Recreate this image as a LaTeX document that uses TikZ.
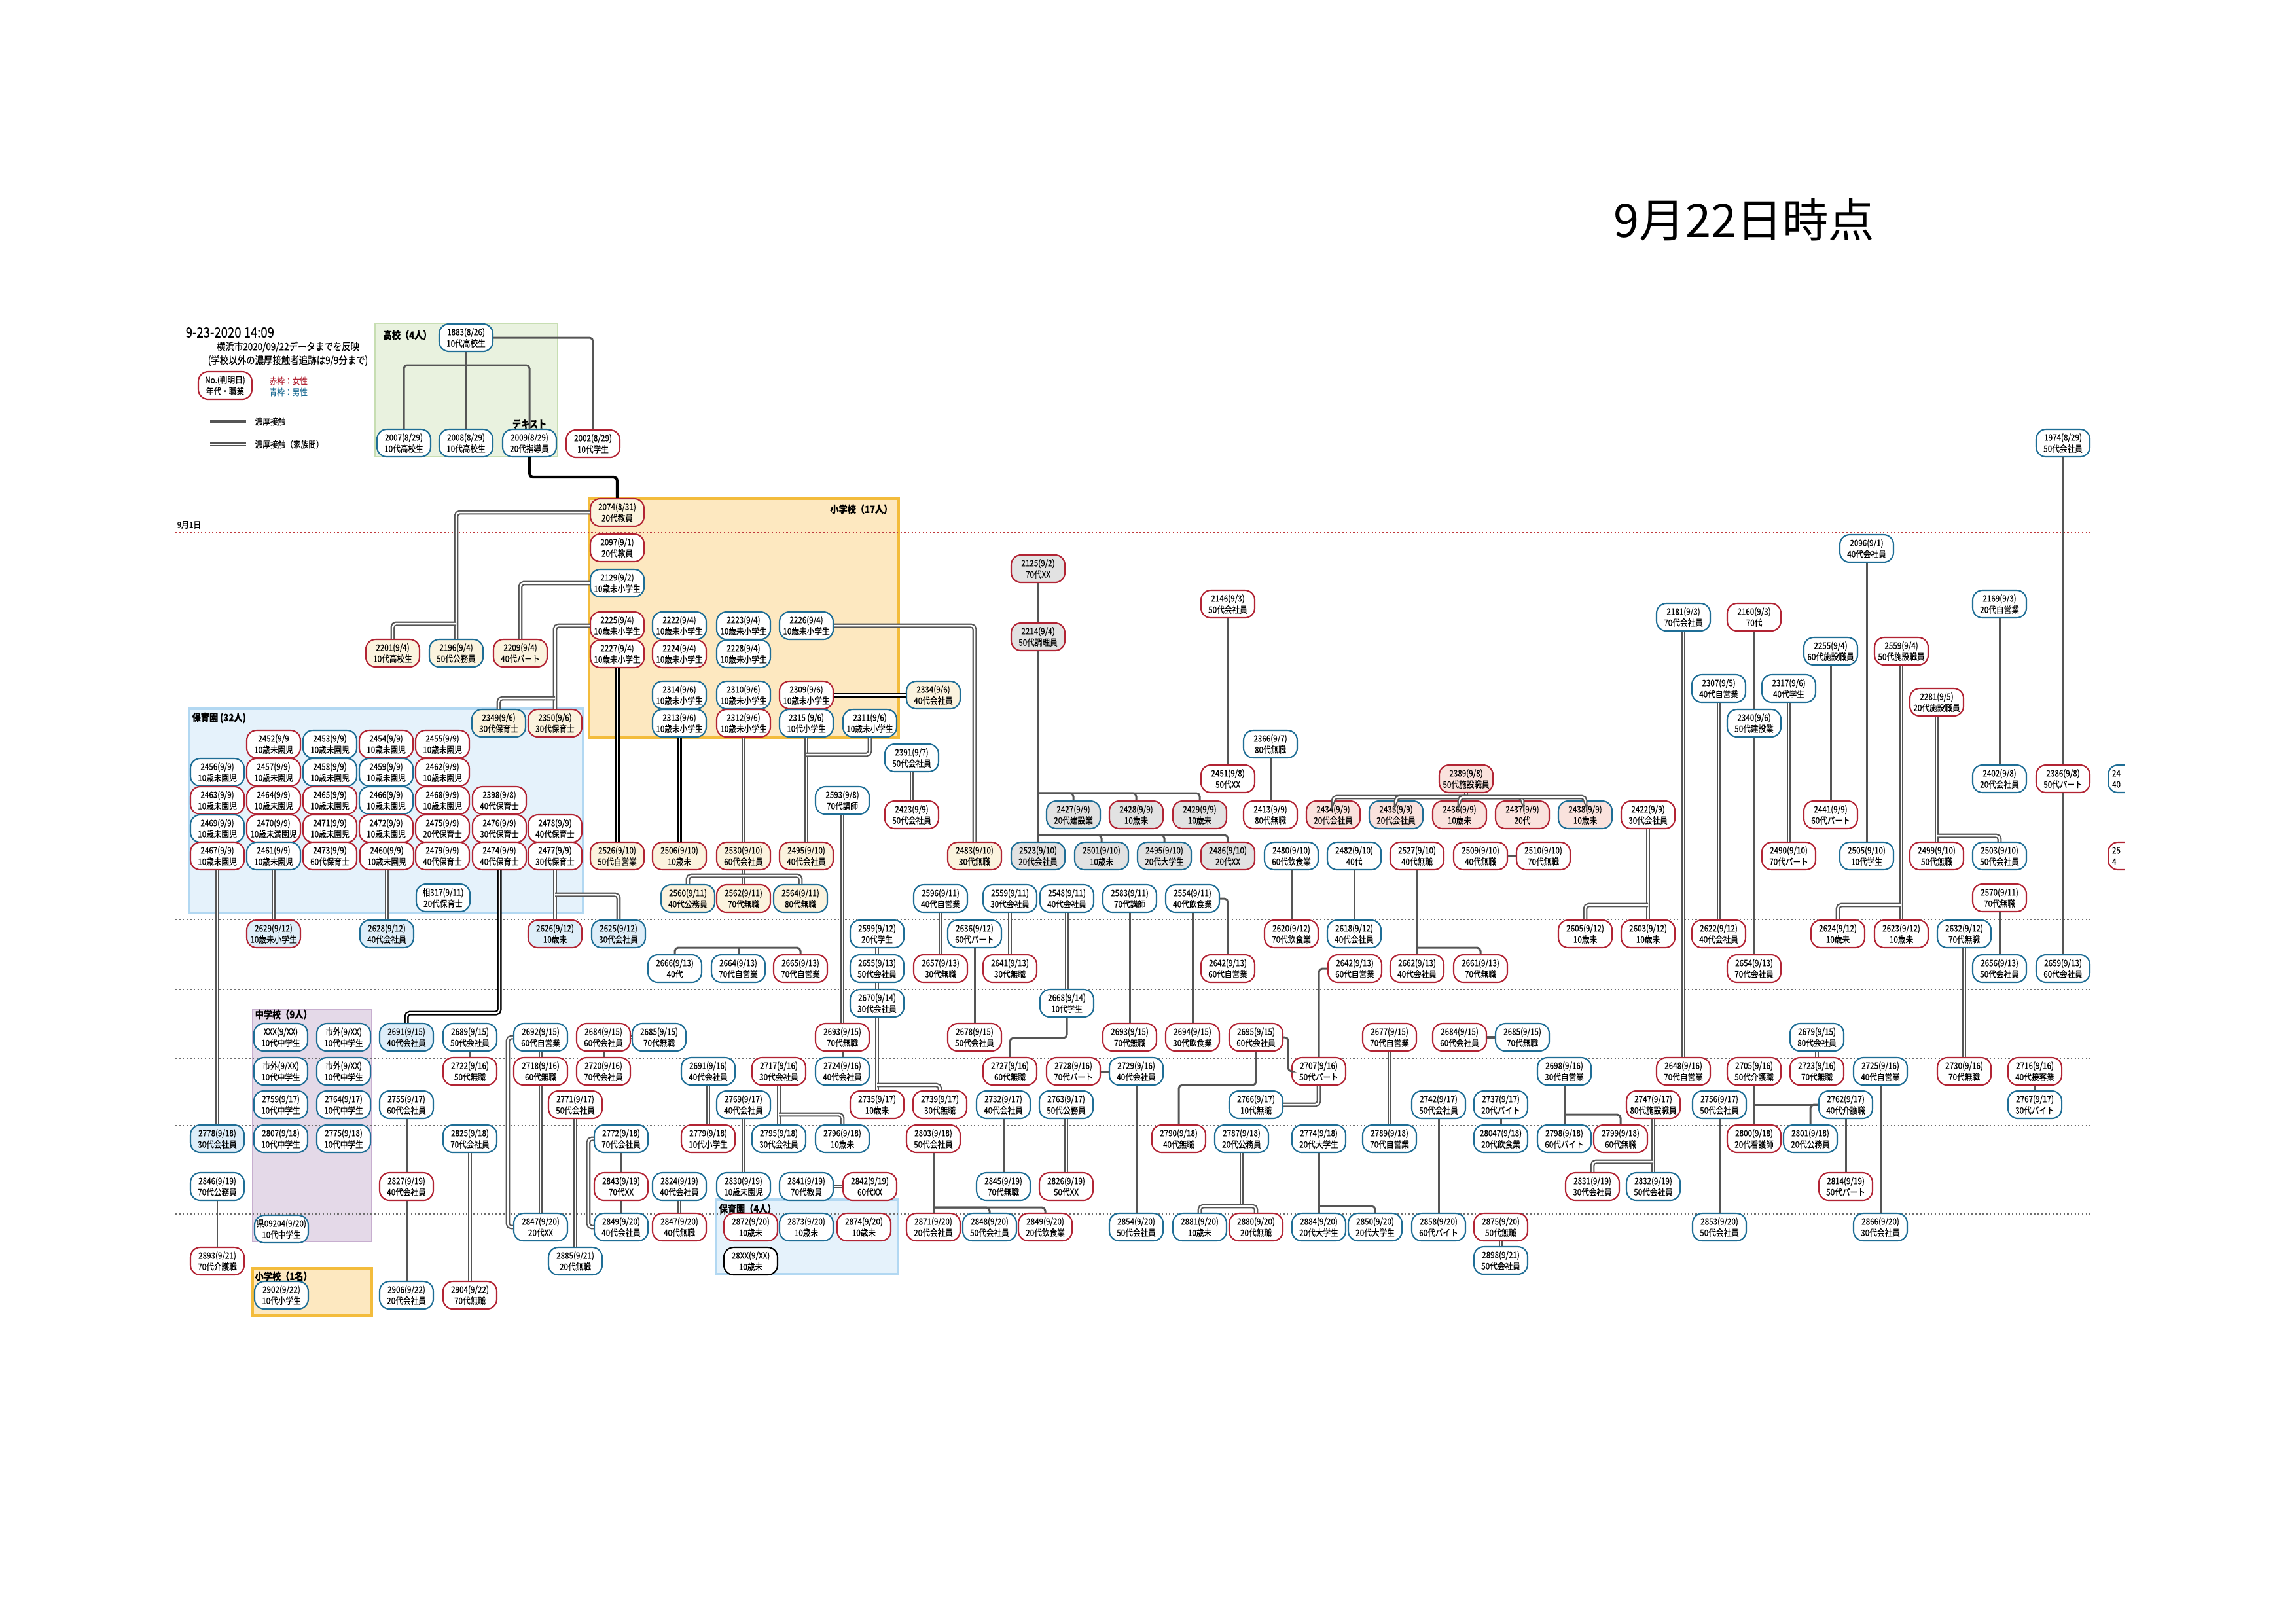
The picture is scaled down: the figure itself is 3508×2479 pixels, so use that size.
\documentclass[tikz,border=0pt]{standalone}
\usepackage{fontspec}
\usetikzlibrary{positioning}
\newfontfamily\jpfont{Noto Sans CJK JP}[FakeStretch=0.85, FakeBold=0.3]
\newfontfamily\titlefont{Noto Sans CJK JP}
\definecolor{maleblue}{RGB}{31,110,150}
\definecolor{femred}{RGB}{178,36,52}
\definecolor{linegray}{RGB}{85,85,85}
\definecolor{beigefill}{RGB}{251,243,222}
\definecolor{grayfill}{RGB}{226,226,226}
\definecolor{pinkfill}{RGB}{250,226,221}
\definecolor{lbluefill}{RGB}{222,238,249}
\definecolor{koukofill}{RGB}{233,242,223}
\definecolor{koukoline}{RGB}{199,222,178}
\definecolor{shofill}{RGB}{253,232,192}
\definecolor{sholine}{RGB}{243,188,60}
\definecolor{hoikufill}{RGB}{229,242,251}
\definecolor{hoikuline}{RGB}{178,216,242}
\definecolor{chufill}{RGB}{228,217,232}
\definecolor{chuline}{RGB}{199,174,207}
\definecolor{datered}{RGB}{192,57,60}
\definecolor{dategray}{RGB}{110,110,110}
\newcommand{\nodefont}{\jpfont\fontsize{3.9pt}{4.9pt}\selectfont}
\newcommand{\grpfont}{\jpfont\bfseries\fontsize{4.4pt}{5pt}\selectfont}
\newcommand{\notefont}{\jpfont\fontsize{4.5pt}{5pt}\selectfont}

\begin{document}
\begin{tikzpicture}[x=0.1mm, y=-0.1mm,
    person/.style={rectangle, rounded corners=0.15cm, minimum width=0.82cm, minimum height=0.42cm, inner sep=0pt, align=center, fill=white, line width=0.6pt, font=\nodefont},
    man/.style={person, draw=maleblue},
    woman/.style={person, draw=femred},
    unk/.style={person, draw=black},
    fbeige/.style={fill=beigefill},
    fgray/.style={fill=grayfill},
    fpink/.style={fill=pinkfill},
    flblue/.style={fill=lbluefill},
    cline/.style={draw=linegray, line width=0.85pt, rounded corners=1.5pt},
    dline/.style={draw=linegray, double=white, double distance=0.7pt, line width=0.6pt, rounded corners=1.5pt},
    bline/.style={draw=black, line width=1.2pt, rounded corners=1.5pt},
    dlineb/.style={draw=black, double=white, double distance=0.7pt, line width=0.65pt, rounded corners=1.5pt},
    dateline/.style={densely dotted, line width=0.6pt},
    grplabel/.style={font=\grpfont, inner sep=0pt}
  ]
  \useasboundingbox (0,0) rectangle (3508,2479);
  \fill[white] (0,0) rectangle (3508,2479);

  \node[font=\titlefont\fontsize{20pt}{24pt}\selectfont] (title) at (2665,336) {9月22日時点};

  % legend
  \node[anchor=west, font=\jpfont\fontsize{6.2pt}{7pt}\selectfont, inner sep=0pt] (stamp) at (283,508) {9-23-2020 14:09};
  \node[font=\notefont, inner sep=0pt] (src) at (440,530) {横浜市2020/09/22データまでを反映};
  \node[font=\notefont, inner sep=0pt] (note) at (440,551) {(学校以外の濃厚接触者追跡は9/9分まで)};
  \node[woman] (lgnode) at (344,589) {No.(判明日)\\年代・職業};
  \node[anchor=west, font=\nodefont, text=femred, inner sep=0pt] (lgred) at (411,582) {赤枠：女性};
  \node[anchor=west, font=\nodefont, text=maleblue, inner sep=0pt] (lgblue) at (411,599) {青枠：男性};
  \coordinate (lgs1) at (321,644);
  \coordinate (lgs2) at (376,644);
  \coordinate (lgd1) at (321,679);
  \coordinate (lgd2) at (376,679);
  \draw[cline, line width=1.2pt] (lgs1) -- (lgs2);
  \draw[dline] (lgd1) -- (lgd2);
  \node[anchor=west, font=\nodefont, inner sep=0pt] (lgsingle) at (389,644) {濃厚接触};
  \node[anchor=west, font=\nodefont, inner sep=0pt] (lgdouble) at (389,679) {濃厚接触（家族間）};

  % group boxes
  \draw[fill=koukofill, draw=koukoline, line width=0.6pt] (573,494) rectangle (852,698);
  \draw[fill=shofill, draw=sholine, line width=0.9pt] (900,762) rectangle (1373,1127);
  \draw[fill=hoikufill, draw=hoikuline, line width=0.9pt] (289,1083) rectangle (891,1395);
  \draw[fill=chufill, draw=chuline, line width=0.6pt] (386,1543) rectangle (568,1897);
  \draw[fill=shofill, draw=sholine, line width=1.3pt] (386,1938) rectangle (568,2010);
  \draw[fill=hoikufill, draw=hoikuline, line width=0.9pt] (1094,1833) rectangle (1372,1947);
  \node[grplabel, anchor=west] (lkouko) at (585,512) {高校（4人）};
  \node[grplabel, anchor=east] (lsho) at (1364,778) {小学校（17人）};
  \node[grplabel, anchor=west] (lhoiku) at (293,1097) {保育園 (32人)};
  \node[grplabel, anchor=west] (lchu) at (389,1550) {中学校（9人）};
  \node[grplabel, anchor=west] (lsho1) at (389,1950) {小学校（1名）};
  \node[grplabel, anchor=west] (lhoiku4) at (1098,1847) {保育園（4人）};
  \node[grplabel] (ltext) at (809,648) {テキスト};

  % date lines
  \draw[dateline, datered] (268,814) -- (3194,814);
  \foreach \yy in {1405,1512,1617,1720,1855} {
    \draw[dateline, dategray] (268,\yy) -- (3194,\yy);
  }
  \node[anchor=west, font=\nodefont, inner sep=0pt] (l91) at (270,802) {9月1日};

  % high school
  \node[man] (n1883) at (712,516) {1883(8/26)\\10代高校生};
  \node[man] (n2007) at (617,677) {2007(8/29)\\10代高校生};
  \node[man] (n2008) at (712,677) {2008(8/29)\\10代高校生};
  \node[man] (n2009) at (809,677) {2009(8/29)\\20代指導員};
  \node[woman] (n2002) at (906,678) {2002(8/29)\\10代学生};

  % elementary school
  \node[woman, fbeige] (n2074) at (943,783) {2074(8/31)\\20代教員};
  \node[woman] (n2097) at (943,837) {2097(9/1)\\20代教員};
  \node[man] (n2129) at (943,891) {2129(9/2)\\10歳未小学生};
  \node[woman] (n2225) at (943,956) {2225(9/4)\\10歳未小学生};
  \node[woman] (n2227) at (943,999) {2227(9/4)\\10歳未小学生};
  \node[man] (n2222) at (1038,956) {2222(9/4)\\10歳未小学生};
  \node[man] (n2223) at (1136,956) {2223(9/4)\\10歳未小学生};
  \node[man] (n2226) at (1232,956) {2226(9/4)\\10歳未小学生};
  \node[woman] (n2224) at (1038,999) {2224(9/4)\\10歳未小学生};
  \node[man] (n2228) at (1136,999) {2228(9/4)\\10歳未小学生};
  \node[man] (n2314) at (1038,1062) {2314(9/6)\\10歳未小学生};
  \node[man] (n2310) at (1136,1062) {2310(9/6)\\10歳未小学生};
  \node[woman] (n2309) at (1232,1062) {2309(9/6)\\10歳未小学生};
  \node[man] (n2313) at (1038,1105) {2313(9/6)\\10歳未小学生};
  \node[woman] (n2312) at (1136,1105) {2312(9/6)\\10歳未小学生};
  \node[man] (n2315) at (1232,1105) {2315 (9/6)\\10代小学生};
  \node[man] (n2311) at (1329,1105) {2311(9/6)\\10歳未小学生};
  \node[man, fbeige] (n2334) at (1426,1062) {2334(9/6)\\40代会社員};

  \node[woman, fbeige] (n2201) at (600,998) {2201(9/4)\\10代高校生};
  \node[man, fbeige] (n2196) at (697,998) {2196(9/4)\\50代公務員};
  \node[woman, fbeige] (n2209) at (795,998) {2209(9/4)\\40代パート};

  % nursery school
  \node[man, fbeige] (n2349) at (762,1105) {2349(9/6)\\30代保育士};
  \node[woman, fbeige] (n2350) at (848,1105) {2350(9/6)\\30代保育士};
  \node[woman] (n2452) at (418,1137) {2452(9/9\\10歳未園児};
  \node[man] (n2453) at (504,1137) {2453(9/9)\\10歳未園児};
  \node[woman] (n2454) at (590,1137) {2454(9/9)\\10歳未園児};
  \node[woman] (n2455) at (676,1137) {2455(9/9)\\10歳未園児};
  \node[man] (n2456) at (332,1180) {2456(9/9)\\10歳未園児};
  \node[woman] (n2457) at (418,1180) {2457(9/9)\\10歳未園児};
  \node[man] (n2458) at (504,1180) {2458(9/9)\\10歳未園児};
  \node[man] (n2459) at (590,1180) {2459(9/9)\\10歳未園児};
  \node[woman] (n2462) at (676,1180) {2462(9/9)\\10歳未園児};
  \node[woman] (n2463) at (332,1223) {2463(9/9)\\10歳未園児};
  \node[woman] (n2464) at (418,1223) {2464(9/9)\\10歳未園児};
  \node[woman] (n2465) at (504,1223) {2465(9/9)\\10歳未園児};
  \node[man] (n2466) at (590,1223) {2466(9/9)\\10歳未園児};
  \node[woman] (n2468) at (676,1223) {2468(9/9)\\10歳未園児};
  \node[woman] (n2398) at (763,1223) {2398(9/8)\\40代保育士};
  \node[man] (n2469) at (332,1266) {2469(9/9)\\10歳未園児};
  \node[woman] (n2470) at (418,1266) {2470(9/9)\\10歳未満園児};
  \node[woman] (n2471) at (504,1266) {2471(9/9)\\10歳未園児};
  \node[woman] (n2472) at (590,1266) {2472(9/9)\\10歳未園児};
  \node[woman] (n2475) at (676,1266) {2475(9/9)\\20代保育士};
  \node[woman] (n2476) at (763,1266) {2476(9/9)\\30代保育士};
  \node[woman] (n2478) at (848,1266) {2478(9/9)\\40代保育士};
  \node[woman] (n2467) at (332,1308) {2467(9/9)\\10歳未園児};
  \node[man] (n2461) at (418,1308) {2461(9/9)\\10歳未園児};
  \node[woman] (n2473) at (504,1308) {2473(9/9)\\60代保育士};
  \node[woman] (n2460) at (591,1308) {2460(9/9)\\10歳未園児};
  \node[woman] (n2479) at (676,1308) {2479(9/9)\\40代保育士};
  \node[woman] (n2474) at (763,1308) {2474(9/9)\\40代保育士};
  \node[woman] (n2477) at (848,1308) {2477(9/9)\\30代保育士};
  \node[man] (nso317) at (677,1372) {相317(9/11)\\20代保育士};
  \node[woman, fbeige] (n2526) at (943,1308) {2526(9/10)\\50代自営業};

  \node[woman, flblue] (n2629) at (418,1427) {2629(9/12)\\10歳未小学生};
  \node[man, flblue] (n2628) at (591,1427) {2628(9/12)\\40代会社員};
  \node[woman, flblue] (n2626) at (848,1427) {2626(9/12)\\10歳未};
  \node[man, flblue] (n2625) at (945,1427) {2625(9/12)\\30代会社員};

  % middle area, 9/5 - 9/13
  \node[woman, fbeige] (n2506) at (1038,1308) {2506(9/10)\\10歳未};
  \node[woman, fbeige] (n2530) at (1136,1308) {2530(9/10)\\60代会社員};
  \node[woman, fbeige] (n2495a) at (1232,1308) {2495(9/10)\\40代会社員};
  \node[man, fbeige] (n2560) at (1051,1373) {2560(9/11)\\40代公務員};
  \node[woman, fbeige] (n2562) at (1136,1373) {2562(9/11)\\70代無職};
  \node[man, fbeige] (n2564) at (1223,1373) {2564(9/11)\\80代無職};
  \node[woman, fbeige] (n2483) at (1489,1308) {2483(9/10)\\30代無職};
  \node[man] (n2391) at (1393,1158) {2391(9/7)\\50代会社員};
  \node[woman] (n2423) at (1393,1245) {2423(9/9)\\50代会社員};
  \node[man] (n2593) at (1287,1223) {2593(9/8)\\70代講師};

  \node[woman, fgray] (n2125) at (1586,869) {2125(9/2)\\70代XX};
  \node[woman, fgray] (n2214) at (1586,973) {2214(9/4)\\50代調理員};
  \node[man, fgray] (n2427) at (1640,1245) {2427(9/9)\\20代建設業};
  \node[woman, fgray] (n2428) at (1736,1245) {2428(9/9)\\10歳未};
  \node[woman, fgray] (n2429) at (1833,1245) {2429(9/9)\\10歳未};
  \node[man, fgray] (n2523) at (1586,1308) {2523(9/10)\\20代会社員};
  \node[man, fgray] (n2501) at (1683,1308) {2501(9/10)\\10歳未};
  \node[man, fgray] (n2495b) at (1779,1308) {2495(9/10)\\20代大学生};
  \node[woman, fgray] (n2486) at (1876,1308) {2486(9/10)\\20代XX};

  \node[woman] (n2146) at (1876,923) {2146(9/3)\\50代会社員};
  \node[woman] (n2451) at (1876,1190) {2451(9/8)\\50代XX};
  \node[man] (n2366) at (1941,1137) {2366(9/7)\\80代無職};
  \node[woman] (n2413) at (1941,1245) {2413(9/9)\\80代無職};
  \node[woman, fpink] (n2389) at (2240,1190) {2389(9/8)\\50代施設職員};
  \node[woman, fpink] (n2434) at (2037,1245) {2434(9/9)\\20代会社員};
  \node[man, fpink] (n2435) at (2133,1245) {2435(9/9)\\20代会社員};
  \node[woman, fpink] (n2436) at (2230,1245) {2436(9/9)\\10歳未};
  \node[woman, fpink] (n2437) at (2326,1245) {2437(9/9)\\20代};
  \node[man, fpink] (n2438) at (2422,1245) {2438(9/9)\\10歳未};
  \node[woman] (n2422) at (2518,1245) {2422(9/9)\\30代会社員};
  \node[man] (n2480) at (1973,1308) {2480(9/10)\\60代飲食業};
  \node[man] (n2482) at (2069,1308) {2482(9/10)\\40代};
  \node[woman] (n2527) at (2165,1308) {2527(9/10)\\40代無職};
  \node[woman] (n2509) at (2262,1308) {2509(9/10)\\40代無職};
  \node[woman] (n2510) at (2358,1308) {2510(9/10)\\70代無職};
  \node[man] (n2554) at (1822,1373) {2554(9/11)\\40代飲食業};
  \node[woman] (n2620) at (1973,1427) {2620(9/12)\\70代飲食業};
  \node[man] (n2618) at (2069,1427) {2618(9/12)\\40代会社員};
  \node[woman] (n2642a) at (1876,1480) {2642(9/13)\\60代自営業};
  \node[woman] (n2642b) at (2070,1480) {2642(9/13)\\60代自営業};
  \node[woman] (n2662) at (2165,1480) {2662(9/13)\\40代会社員};
  \node[woman] (n2661) at (2262,1480) {2661(9/13)\\70代無職};
  \node[woman] (n2605) at (2422,1427) {2605(9/12)\\10歳未};
  \node[woman] (n2603) at (2518,1427) {2603(9/12)\\10歳未};

  \node[man] (n2596) at (1437,1373) {2596(9/11)\\40代自営業};
  \node[man] (n2559b) at (1543,1373) {2559(9/11)\\30代会社員};
  \node[man] (n2548) at (1630,1373) {2548(9/11)\\40代会社員};
  \node[man] (n2583) at (1726,1373) {2583(9/11)\\70代講師};
  \node[man] (n2599) at (1340,1427) {2599(9/12)\\20代学生};
  \node[man] (n2636) at (1489,1427) {2636(9/12)\\60代パート};
  \node[man] (n2666) at (1031,1480) {2666(9/13)\\40代};
  \node[man] (n2664) at (1128,1480) {2664(9/13)\\70代自営業};
  \node[woman] (n2665) at (1223,1480) {2665(9/13)\\70代自営業};
  \node[man] (n2655) at (1340,1480) {2655(9/13)\\50代会社員};
  \node[woman] (n2657) at (1437,1480) {2657(9/13)\\30代無職};
  \node[woman] (n2641) at (1543,1480) {2641(9/13)\\30代無職};

  % right area
  \node[man] (n1974) at (3152,677) {1974(8/29)\\50代会社員};
  \node[man] (n2096) at (2852,838) {2096(9/1)\\40代会社員};
  \node[man] (n2181) at (2572,943) {2181(9/3)\\70代会社員};
  \node[woman] (n2160) at (2680,943) {2160(9/3)\\70代};
  \node[man] (n2169) at (3055,923) {2169(9/3)\\20代自営業};
  \node[man] (n2255) at (2797,995) {2255(9/4)\\60代施設職員};
  \node[woman] (n2559a) at (2905,995) {2559(9/4)\\50代施設職員};
  \node[man] (n2307) at (2626,1052) {2307(9/5)\\40代自営業};
  \node[man] (n2317) at (2733,1052) {2317(9/6)\\40代学生};
  \node[woman] (n2281) at (2959,1073) {2281(9/5)\\20代施設職員};
  \node[man] (n2340) at (2680,1105) {2340(9/6)\\50代建設業};
  \node[man] (n2402) at (3055,1190) {2402(9/8)\\20代会社員};
  \node[woman] (n2386) at (3152,1190) {2386(9/8)\\50代パート};
  \node[woman] (n2441) at (2797,1245) {2441(9/9)\\60代パート};
  \node[woman] (n2490) at (2733,1308) {2490(9/10)\\70代パート};
  \node[man] (n2505) at (2852,1308) {2505(9/10)\\10代学生};
  \node[woman] (n2499) at (2959,1308) {2499(9/10)\\50代無職};
  \node[man] (n2503) at (3055,1308) {2503(9/10)\\50代会社員};
  \node[woman] (n2570) at (3055,1372) {2570(9/11)\\70代無職};
  \node[woman] (n2622) at (2626,1427) {2622(9/12)\\40代会社員};
  \node[woman] (n2624) at (2808,1427) {2624(9/12)\\10歳未};
  \node[woman] (n2623) at (2905,1427) {2623(9/12)\\10歳未};
  \node[man] (n2632) at (3001,1427) {2632(9/12)\\70代無職};
  \node[woman] (n2654) at (2680,1480) {2654(9/13)\\70代会社員};
  \node[man] (n2656) at (3055,1480) {2656(9/13)\\50代会社員};
  \node[man] (n2659) at (3152,1480) {2659(9/13)\\60代会社員};
  \begin{scope}
    \clip (3190,1100) rectangle (3246,1400);
    \node[man, align=left, text width=0.7cm] (ncut1) at (3262,1190) {24\\40};
    \node[woman, align=left, text width=0.7cm] (ncut2) at (3262,1308) {25\\4};
  \end{scope}

  % 9/14 - 9/22
  \node[man] (n2670) at (1340,1533) {2670(9/14)\\30代会社員};
  \node[man] (n2668) at (1630,1533) {2668(9/14)\\10代学生};

  \node[man] (nxxx) at (429,1585) {XXX(9/XX)\\10代中学生};
  \node[man] (nshigaiA) at (525,1585) {市外(9/XX)\\10代中学生};
  \node[man, flblue] (n2691a) at (621,1585) {2691(9/15)\\40代会社員};
  \node[man] (n2689) at (718,1585) {2689(9/15)\\50代会社員};
  \node[man] (n2692) at (826,1585) {2692(9/15)\\60代自営業};
  \node[woman] (n2684a) at (922,1585) {2684(9/15)\\60代会社員};
  \node[man] (n2685a) at (1007,1585) {2685(9/15)\\70代無職};
  \node[woman] (n2693a) at (1287,1585) {2693(9/15)\\70代無職};
  \node[woman] (n2678) at (1489,1585) {2678(9/15)\\50代会社員};
  \node[woman] (n2693b) at (1726,1585) {2693(9/15)\\70代無職};
  \node[woman] (n2694) at (1822,1585) {2694(9/15)\\30代飲食業};
  \node[woman] (n2695) at (1919,1585) {2695(9/15)\\60代会社員};
  \node[woman] (n2677) at (2123,1585) {2677(9/15)\\70代自営業};
  \node[woman] (n2684b) at (2230,1585) {2684(9/15)\\60代会社員};
  \node[man] (n2685b) at (2326,1585) {2685(9/15)\\70代無職};
  \node[man] (n2679) at (2776,1585) {2679(9/15)\\80代会社員};

  \node[man] (nshigaiB) at (429,1637) {市外(9/XX)\\10代中学生};
  \node[man] (nshigaiC) at (525,1637) {市外(9/XX)\\10代中学生};
  \node[woman] (n2722) at (718,1637) {2722(9/16)\\50代無職};
  \node[woman] (n2718) at (826,1637) {2718(9/16)\\60代無職};
  \node[woman] (n2720) at (922,1637) {2720(9/16)\\70代会社員};
  \node[man] (n2691b) at (1082,1637) {2691(9/16)\\40代会社員};
  \node[woman] (n2717) at (1190,1637) {2717(9/16)\\30代会社員};
  \node[man] (n2724) at (1287,1637) {2724(9/16)\\40代会社員};
  \node[woman] (n2727) at (1543,1637) {2727(9/16)\\60代無職};
  \node[woman] (n2728) at (1640,1637) {2728(9/16)\\70代パート};
  \node[man] (n2729) at (1736,1637) {2729(9/16)\\40代会社員};
  \node[woman] (n2707) at (2015,1637) {2707(9/16)\\50代パート};
  \node[man] (n2698) at (2390,1637) {2698(9/16)\\30代自営業};
  \node[woman] (n2648) at (2572,1637) {2648(9/16)\\70代自営業};
  \node[woman] (n2705) at (2680,1637) {2705(9/16)\\50代介護職};
  \node[woman] (n2723) at (2776,1637) {2723(9/16)\\70代無職};
  \node[man] (n2725) at (2873,1637) {2725(9/16)\\40代自営業};
  \node[woman] (n2730) at (3001,1637) {2730(9/16)\\70代無職};
  \node[woman] (n2716) at (3109,1637) {2716(9/16)\\40代接客業};

  \node[man] (n2759) at (429,1688) {2759(9/17)\\10代中学生};
  \node[man] (n2764) at (525,1688) {2764(9/17)\\10代中学生};
  \node[man] (n2755) at (621,1688) {2755(9/17)\\60代会社員};
  \node[woman] (n2771) at (879,1688) {2771(9/17)\\50代会社員};
  \node[man] (n2769) at (1136,1688) {2769(9/17)\\40代会社員};
  \node[woman] (n2735) at (1340,1688) {2735(9/17)\\10歳未};
  \node[woman] (n2739) at (1436,1688) {2739(9/17)\\30代無職};
  \node[man] (n2732) at (1533,1688) {2732(9/17)\\40代会社員};
  \node[man] (n2763) at (1629,1688) {2763(9/17)\\50代公務員};
  \node[man] (n2766) at (1919,1688) {2766(9/17)\\10代無職};
  \node[man] (n2742) at (2198,1688) {2742(9/17)\\50代会社員};
  \node[man] (n2737) at (2293,1688) {2737(9/17)\\20代バイト};
  \node[woman] (n2747) at (2526,1688) {2747(9/17)\\80代施設職員};
  \node[man] (n2756) at (2627,1688) {2756(9/17)\\50代会社員};
  \node[man] (n2762) at (2820,1688) {2762(9/17)\\40代介護職};
  \node[man] (n2767) at (3109,1688) {2767(9/17)\\30代バイト};

  \node[man, flblue] (n2778) at (332,1740) {2778(9/18)\\30代会社員};
  \node[man] (n2807) at (429,1740) {2807(9/18)\\10代中学生};
  \node[man] (n2775) at (525,1740) {2775(9/18)\\10代中学生};
  \node[man] (n2825) at (718,1740) {2825(9/18)\\70代会社員};
  \node[man] (n2772) at (949,1740) {2772(9/18)\\70代会社員};
  \node[woman] (n2779) at (1082,1740) {2779(9/18)\\10代小学生};
  \node[man] (n2795) at (1190,1740) {2795(9/18)\\30代会社員};
  \node[man] (n2796) at (1287,1740) {2796(9/18)\\10歳未};
  \node[woman] (n2803) at (1426,1740) {2803(9/18)\\50代会社員};
  \node[woman] (n2790) at (1801,1740) {2790(9/18)\\40代無職};
  \node[man] (n2787) at (1897,1740) {2787(9/18)\\20代公務員};
  \node[man] (n2774) at (2015,1740) {2774(9/18)\\20代大学生};
  \node[man] (n2789) at (2123,1740) {2789(9/18)\\70代自営業};
  \node[man] (n28047) at (2293,1740) {28047(9/18)\\20代飲食業};
  \node[man] (n2798) at (2390,1740) {2798(9/18)\\60代バイト};
  \node[woman] (n2799) at (2476,1740) {2799(9/18)\\60代無職};
  \node[woman] (n2800) at (2680,1740) {2800(9/18)\\20代看護師};
  \node[man] (n2801) at (2766,1740) {2801(9/18)\\20代公務員};

  \node[man] (n2846) at (332,1813) {2846(9/19)\\70代公務員};
  \node[woman] (n2827) at (621,1813) {2827(9/19)\\40代会社員};
  \node[woman] (n2843) at (949,1813) {2843(9/19)\\70代XX};
  \node[man] (n2824) at (1038,1813) {2824(9/19)\\40代会社員};
  \node[man] (n2830) at (1136,1813) {2830(9/19)\\10歳未園児};
  \node[man] (n2841) at (1232,1813) {2841(9/19)\\70代教員};
  \node[woman] (n2842) at (1329,1813) {2842(9/19)\\60代XX};
  \node[man] (n2845) at (1533,1813) {2845(9/19)\\70代無職};
  \node[woman] (n2826) at (1629,1813) {2826(9/19)\\50代XX};
  \node[woman] (n2831) at (2433,1813) {2831(9/19)\\30代会社員};
  \node[man] (n2832) at (2526,1813) {2832(9/19)\\50代会社員};
  \node[woman] (n2814) at (2820,1813) {2814(9/19)\\50代パート};

  \node[man] (nken) at (430,1878) {県09204(9/20)\\10代中学生};
  \node[man] (n2847a) at (826,1875) {2847(9/20)\\20代XX};
  \node[man] (n2849a) at (949,1875) {2849(9/20)\\40代会社員};
  \node[woman] (n2847b) at (1038,1875) {2847(9/20)\\40代無職};
  \node[woman] (n2872) at (1147,1875) {2872(9/20)\\10歳未};
  \node[man] (n2873) at (1232,1875) {2873(9/20)\\10歳未};
  \node[woman] (n2874) at (1320,1875) {2874(9/20)\\10歳未};
  \node[woman] (n2871) at (1426,1875) {2871(9/20)\\20代会社員};
  \node[man] (n2848) at (1512,1875) {2848(9/20)\\50代会社員};
  \node[woman] (n2849b) at (1597,1875) {2849(9/20)\\20代飲食業};
  \node[man] (n2854) at (1736,1875) {2854(9/20)\\50代会社員};
  \node[man] (n2881) at (1833,1875) {2881(9/20)\\10歳未};
  \node[woman] (n2880) at (1919,1875) {2880(9/20)\\20代無職};
  \node[man] (n2884) at (2015,1875) {2884(9/20)\\20代大学生};
  \node[man] (n2850) at (2101,1875) {2850(9/20)\\20代大学生};
  \node[man] (n2858) at (2198,1875) {2858(9/20)\\60代バイト};
  \node[woman] (n2875) at (2293,1875) {2875(9/20)\\50代無職};
  \node[man] (n2853) at (2627,1875) {2853(9/20)\\50代会社員};
  \node[man] (n2866) at (2873,1875) {2866(9/20)\\30代会社員};

  \node[woman] (n2893) at (332,1927) {2893(9/21)\\70代介護職};
  \node[man] (n2885) at (879,1927) {2885(9/21)\\20代無職};
  \node[unk] (n28xx) at (1147,1927) {28XX(9/XX)\\10歳未};
  \node[man] (n2898) at (2293,1926) {2898(9/21)\\50代会社員};
  \node[man] (n2902) at (430,1979) {2902(9/22)\\10代小学生};
  \node[man] (n2906) at (621,1979) {2906(9/22)\\20代会社員};
  \node[woman] (n2904) at (718,1979) {2904(9/22)\\70代無職};

  % connectors
  \coordinate (j1883) at (712,558);
  \draw[cline] (n1883.south) -- (j1883);
  \draw[cline] (n2007.north) |- (j1883);
  \draw[cline] (n2008.north) -- (j1883);
  \draw[cline] (n2009.north) |- (j1883);
  \draw[cline] (n1883.east) -| (n2002.north);
  \draw[bline] (n2009.south) -- ++(0,30) -| (n2074.north);

  \draw[dline] (n2074.west) -| (n2196.north);
  \coordinate (j2074) at (697,953);
  \draw[dline] (n2201.north) |- (j2074);
  \draw[dline] (n2129.west) -| (n2209.north);
  \draw[dline] (n2225.west) -| (n2350.north);
  \coordinate (j2225) at (848,1067);
  \draw[dline] (n2349.north) |- (j2225);
  \draw[dlineb] (n2227.south) -- (n2526.north);
  \draw[dline] (n2226.east) -| (n2483.north);
  \draw[dlineb] (n2309.east) -- (n2334.west);
  \draw[dlineb] (n2313.south) -- (n2506.north);
  \draw[dline] (n2312.south) -- (n2530.north);
  \draw[dline] (n2315.south) -- (n2495a.north);
  \coordinate (j2311) at (1232,1153);
  \draw[dline] (n2311.south) |- (j2311);
  \coordinate (j2530) at (1136,1338);
  \draw[dline] (n2530.south) -- (n2562.north);
  \draw[dline] (n2560.north) |- (j2530);
  \draw[dline] (n2564.north) |- (j2530);
  \coordinate (j2666) at (1128,1448);
  \draw[cline] (n2666.north) |- (j2666) -| (n2665.north);
  \draw[cline] (n2664.north) -- (j2666);

  \draw[dline] (n2467.south) -- (n2778.north);
  \draw[dline] (n2461.south) -- (n2629.north);
  \draw[dline] (n2460.south) -- (n2628.north);
  \draw[dline] (n2477.south) -- (n2626.north);
  \coordinate (j2477) at (848,1367);
  \draw[dline] (n2625.north) |- (j2477);
  \draw[dlineb] (n2474.south) -- ++(0,218) -| (n2691a.north);

  \draw[cline] (n2125.south) -- (n2214.north);
  \draw[cline] (n2214.south) -- (n2523.north);
  \coordinate (j2214a) at (1586,1212);
  \coordinate (j2214b) at (1586,1276);
  \draw[cline] (n2427.north) |- (j2214a);
  \draw[cline] (n2428.north) |- (j2214a);
  \draw[cline] (n2429.north) |- (j2214a);
  \draw[cline] (n2501.north) |- (j2214b);
  \draw[cline] (n2495b.north) |- (j2214b);
  \draw[cline] (n2486.north) |- (j2214b);

  \draw[cline] (n2146.south) -- (n2451.north);
  \draw[cline] (n2366.south) -- (n2413.north);
  \coordinate (j2389) at (2240,1218);
  \draw[dline] (n2389.south) -- (j2389);
  \foreach \nn in {2434,2435,2436,2437,2438} {
    \draw[dline] (n\nn.north) |- (j2389);
  }
  \draw[dline] (n2391.south) -- (n2423.north);
  \draw[dline] (n2593.south) -- (n2693a.north);
  \draw[dline] (n2422.south) -- (n2603.north);
  \coordinate (j2422) at (2518,1383);
  \draw[dline] (n2605.north) |- (j2422);
  \draw[cline] (n2480.south) -- (n2620.north);
  \draw[cline] (n2482.south) -- (n2618.north);
  \draw[cline] (n2527.south) -- (n2662.north);
  \coordinate (j2527) at (2165,1448);
  \draw[cline] (n2661.north) |- (j2527);
  \draw[cline, line width=1.4pt] (n2509.east) -- (n2510.west);
  \draw[cline] (n2554.south) -- (n2694.north);
  \draw[cline] (n2554.east) -| (n2642a.north);
  \draw[cline] (n2642b.west) -| (n2707.north);

  \draw[cline] (n2695.east) -- ++(7,0) |- (n2707.west);
  \draw[cline] (n2695.south) -- ++(0,51) -| (n2790.north);
  \draw[dline] (n2707.south) |- (n2766.east);
  \coordinate (j2787) at (1897,1843);
  \draw[dline] (n2787.south) -- (j2787);
  \draw[dline] (n2881.north) |- (j2787);
  \draw[dline] (n2880.north) |- (j2787);
  \draw[cline] (n2774.south) -- (n2884.north);
  \coordinate (j2774) at (2015,1843);
  \draw[cline] (n2850.north) |- (j2774);
  \draw[dline] (n2677.south) -- (n2789.north);
  \draw[cline, line width=1.4pt] (n2684b.east) -- (n2685b.west);
  \draw[cline] (n2742.south) -- (n2858.north);
  \draw[cline] (n2737.south) -- (n28047.north);
  \draw[dline] (n2875.south) -- (n2898.north);
  \draw[cline] (n2698.south) -- (n2798.north);
  \coordinate (j2698) at (2390,1703);
  \draw[cline] (n2799.north) |- (j2698);
  \draw[dline] (n2747.south) -- (n2832.north);
  \coordinate (j2747) at (2526,1775);
  \draw[dline] (n2831.north) |- (j2747);

  \draw[dline] (n2181.south) -- (n2648.north);
  \draw[cline] (n2160.south) -- (n2340.north);
  \draw[cline] (n2340.south) -- (n2654.north);
  \draw[dline] (n2307.south) -- (n2622.north);
  \draw[dline] (n2317.south) -- (n2490.north);
  \draw[cline] (n2255.south) -- (n2441.north);
  \draw[cline] (n2096.south) -- (n2505.north);
  \draw[dline] (n2559a.south) -- (n2623.north);
  \coordinate (j2559) at (2905,1383);
  \draw[dline] (n2624.north) |- (j2559);
  \draw[dline] (n2281.south) -- (n2499.north);
  \coordinate (j2281) at (2959,1277);
  \draw[dline] (n2503.north) |- (j2281);
  \draw[cline] (n2169.south) -- (n2402.north);
  \draw[cline] (n1974.south) -- (n2386.north);
  \draw[cline] (n2386.south) -- (n2659.north);
  \draw[cline] (n2570.south) -- (n2656.north);
  \draw[dline] (n2632.south) -- (n2730.north);
  \draw[dline] (n2679.south) -- (n2723.north);
  \draw[cline] (n2705.south) -- (n2800.north);
  \coordinate (j2705) at (2680,1688);
  \draw[cline] (n2762.west) -- (j2705);
  \draw[cline] (n2801.north) |- (n2762.west);
  \draw[cline] (n2762.south) -- (n2814.north);
  \draw[cline] (n2725.south) -- (n2866.north);
  \draw[cline] (n2716.south) -- (n2767.north);
  \draw[cline] (n2756.south) -- (n2853.north);

  \draw[cline] (n2728.east) -- (n2729.west);
  \draw[cline] (n2729.south) -- (n2854.north);
  \draw[cline] (n2803.south) -- (n2871.north);
  \coordinate (j2803) at (1426,1845);
  \draw[cline] (n2848.north) |- (j2803);
  \draw[cline] (n2849b.north) |- (j2803);
  \draw[dline] (n2763.south) -- (n2826.north);
  \draw[cline] (n2732.south) -- (n2845.north);
  \draw[cline] (n2668.south) -- ++(0,31) -| (n2727.north);
  \draw[dline] (n2548.south) -- (n2668.north);
  \draw[cline] (n2583.south) -- (n2693b.north);
  \draw[dline] (n2559b.south) -- (n2641.north);
  \draw[dline] (n2596.south) -- (n2657.north);
  \draw[dline] (n2599.south) -- (n2655.north);
  \draw[cline] (n2636.south) -- (n2678.north);
  \draw[dline] (n2655.south) -- (n2670.north);
  \draw[dline] (n2670.south) -- (n2735.north);
  \coordinate (j2670) at (1340,1658);
  \draw[dline] (n2739.north) |- (j2670);
  \draw[cline] (n2693a.south) -- (n2724.north);
  \draw[dline] (n2717.south) -- (n2795.north);
  \coordinate (j2717) at (1190,1703);
  \draw[dline] (n2796.north) |- (j2717);
  \draw[dline] (n2769.south) -- (n2830.north);
  \draw[dline] (n2841.east) -- (n2842.west);
  \draw[dline] (n2691b.south) -- (n2779.north);
  \draw[dline] (n2824.south) -- (n2847b.north);

  \draw[cline] (n2689.south) -- (n2722.north);
  \draw[dline] (n2692.south) -- (n2718.north);
  \draw[dline] (n2718.south) -- (n2847a.north);
  \draw[dline] (n2692.west) -- ++(-8,0) |- (n2847a.west);
  \draw[dline] (n2684a.east) -- (n2685a.west);
  \draw[cline] (n2684a.south) -- (n2720.north);
  \draw[dline] (n2771.south) -- (n2885.north);
  \draw[cline] (n2772.south) -- (n2843.north);
  \draw[cline] (n2843.south) -- (n2849a.north);
  \draw[dline] (n2772.west) -- ++(-8,0) |- (n2849a.west);
  \draw[cline] (n2755.south) -- (n2827.north);
  \draw[cline] (n2827.south) -- (n2906.north);
  \draw[dline] (n2825.south) -- (n2904.north);
  \draw[cline] (n2846.south) -- (n2893.north);
\end{tikzpicture}
\end{document}
